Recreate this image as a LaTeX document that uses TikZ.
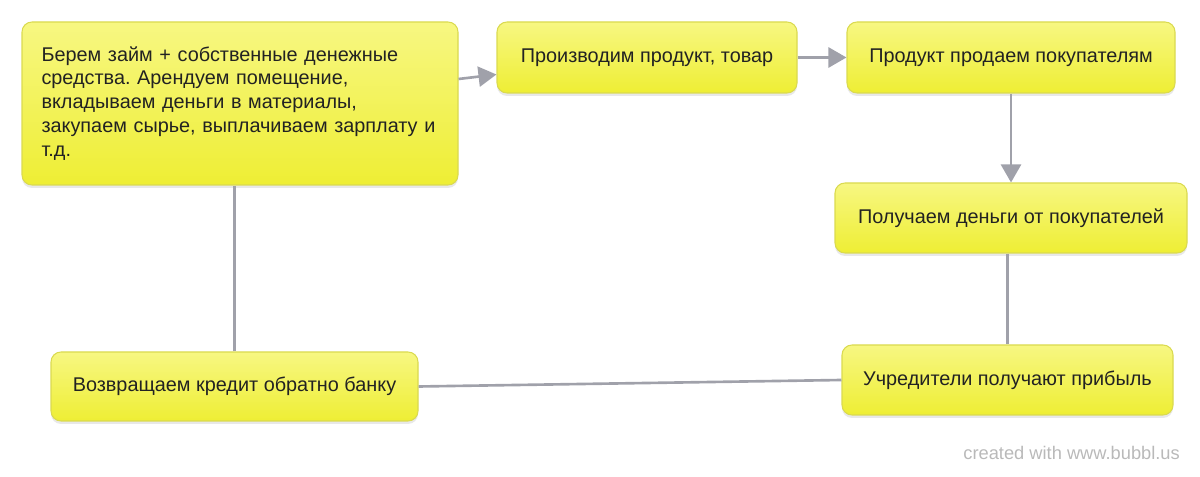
\documentclass[tikz,border=0pt]{standalone}
\usepackage{fontspec}
\setmainfont{Liberation Sans}
\usetikzlibrary{arrows.meta,shadows}
\definecolor{boxtop}{RGB}{247,247,130}
\definecolor{boxbot}{RGB}{238,238,52}
\definecolor{boxrim}{RGB}{218,218,80}
\definecolor{linkgray}{RGB}{160,161,170}
\definecolor{inkgray}{RGB}{34,34,34}
\frenchspacing

\begin{document}
\begin{tikzpicture}[
    every node/.style={font=\fontsize{11.3}{13.6}\selectfont, text=inkgray},
    box/.style={rectangle, rounded corners=0.2cm, draw=boxrim, line width=0.6pt,
        top color=boxtop, bottom color=boxbot, inner sep=0pt,
        drop shadow={opacity=0.18, shadow xshift=0pt, shadow yshift=-0.06cm}},
    flow/.style={-{Triangle[length=0.36cm, width=0.4cm]}, linkgray, line width=1.5pt},
    link/.style={linkgray, line width=1.5pt},
]
\useasboundingbox (0,0) rectangle (24,-9.54);

\node[box, minimum width=8.72cm, minimum height=3.26cm, text width=8.32cm, align=left]
    (loan) at (4.80,-2.07) {\hspace*{0.19cm}Берем займ + собственные денежные\\
    \hspace*{0.19cm}средства. Арендуем помещение,\\
    \hspace*{0.19cm}вкладываем деньги в материалы,\\
    \hspace*{0.19cm}закупаем сырье, выплачиваем зарплату и\\
    \hspace*{0.19cm}т.д.};
\node[box, minimum width=6.00cm, minimum height=1.42cm] (make) at (12.94,-1.15) {Производим продукт, товар};
\node[box, minimum width=6.56cm, minimum height=1.42cm] (sell) at (20.22,-1.15) {Продукт продаем покупателям};
\node[box, minimum width=7.04cm, minimum height=1.40cm] (cash) at (20.22,-4.36) {Получаем деньги от покупателей};
\node[box, minimum width=6.62cm, minimum height=1.40cm] (profit) at (20.15,-7.60) {Учредители получают прибыль};
\node[box, minimum width=7.34cm, minimum height=1.38cm] (repay) at (4.69,-7.73) {Возвращаем кредит обратно банку};

\draw[flow] ([yshift=0.49cm]loan.east) -- ([yshift=-0.34cm]make.west);
\draw[flow] (make) -- (sell);
\draw[flow] (sell) -- (cash);
\draw[link] (profit.north |- cash.south) -- (profit.north);
\draw[link] (profit.west) -- (repay.east);
\draw[link] (repay.north) -- (repay.north |- loan.south);

\node[anchor=east, text=gray!55, font=\fontsize{10.4}{12}\selectfont] (credit) at (23.72,-9.06) {created with www.bubbl.us};
\end{tikzpicture}
\end{document}
